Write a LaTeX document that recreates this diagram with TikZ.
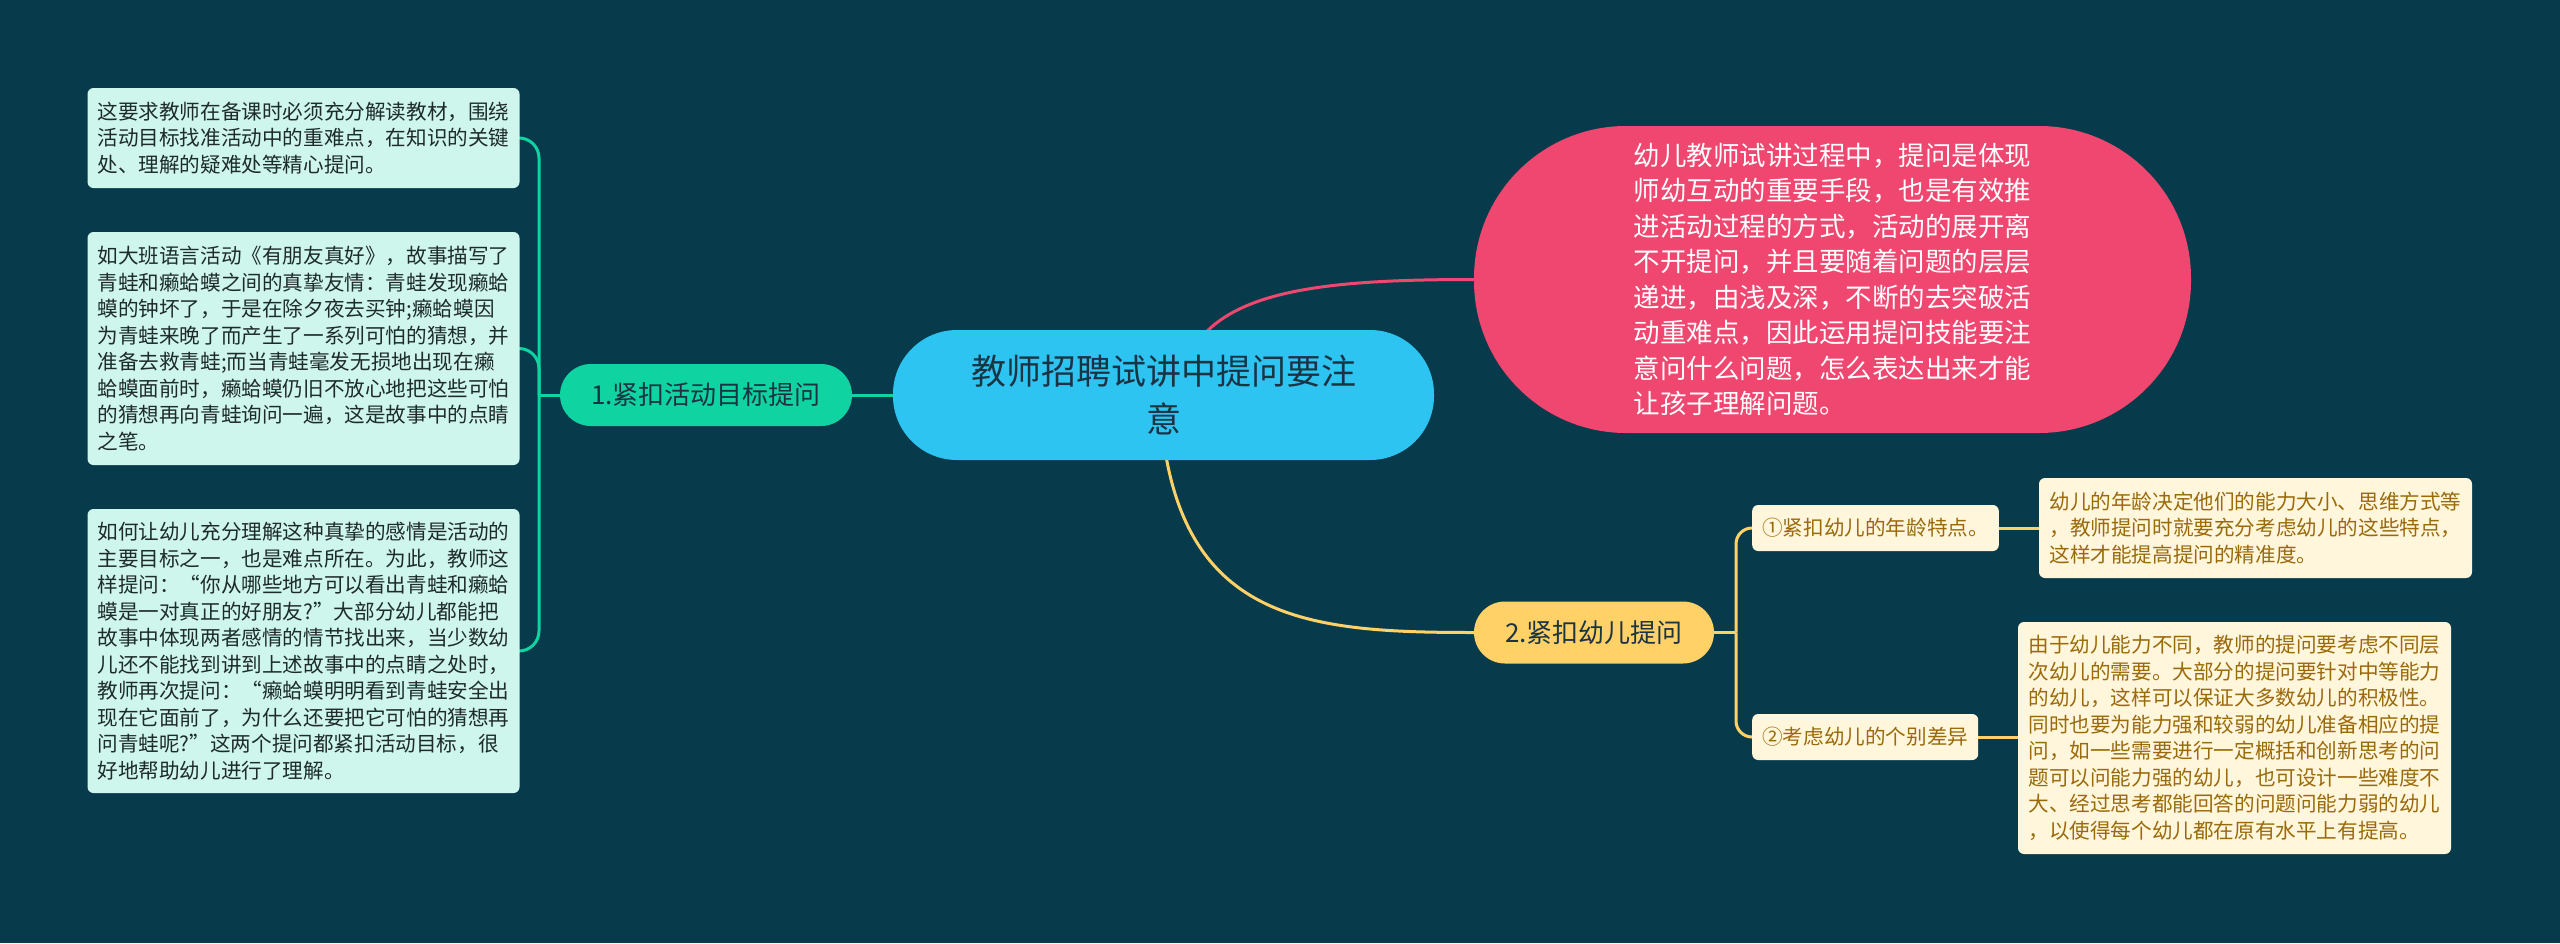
\documentclass[tikz,border=0pt]{standalone}
\usepackage{fontspec}
\newfontfamily\cjk{Noto Sans CJK SC}
\definecolor{bgc}{HTML}{073B4C}
\definecolor{tealc}{HTML}{0FD3A0}
\definecolor{pinkc}{HTML}{EF476F}
\definecolor{yelc}{HTML}{FFD166}
\definecolor{rootc}{HTML}{2EC4F2}
\definecolor{mint}{HTML}{CFF6EC}
\definecolor{minttext}{HTML}{1E2B2B}
\definecolor{cream}{HTML}{FFF6DC}
\definecolor{creamtext}{HTML}{9A6A0A}
\definecolor{darktext}{HTML}{1B3444}
\pgfdeclarelayer{back}
\pgfdeclarelayer{edges}
\pgfsetlayers{back,edges,main}
\tikzset{
  leafL/.style={fill=mint, text=minttext, rounded corners=6pt, align=left,
    font=\cjk\fontsize{20.6}{26.5}\selectfont, inner xsep=10pt, inner ysep=4pt,
    minimum width=431pt},
  leafR/.style={fill=cream, text=creamtext, rounded corners=6pt, align=left,
    font=\cjk\fontsize{20.6}{26.5}\selectfont, inner xsep=10pt, inner ysep=4pt,
    minimum width=433pt},
  subbox/.style={fill=cream, text=creamtext, rounded corners=6pt,
    font=\cjk\fontsize{20.6}{26.5}\selectfont, inner xsep=10pt, inner ysep=4pt,
    minimum height=46pt},
  rootbox/.style={fill=rootc, text=darktext, align=center, rounded corners=64pt,
    font=\cjk\fontsize{35}{48}\selectfont, minimum width=541pt, minimum height=130pt},
  pinkbox/.style={fill=pinkc, text=white, align=left, rounded corners=152pt,
    font=\cjk\fontsize{26.5}{35.5}\selectfont, minimum width=717pt, minimum height=307pt},
  branchbox/.style={text=darktext, font=\cjk\fontsize{26}{30}\selectfont,
    minimum height=62pt, rounded corners=31pt},
  tline/.style={draw=tealc, line width=3pt},
  yline/.style={draw=yelc, line width=3pt},
  pline/.style={draw=pinkc, line width=3pt},
}
\begin{document}
\begin{tikzpicture}[x=1pt,y=-1pt]
\begin{pgfonlayer}{back}
\fill[bgc] (0,0) rectangle (2560,943);
\end{pgfonlayer}
\useasboundingbox (0,0) rectangle (2560,943);

\node[rootbox] (root) at (1163.5,395) {教师招聘试讲中提问要注\\意};
\node[pinkbox] (pink) at (1832.5,279.5) {幼儿教师试讲过程中，提问是体现\\师幼互动的重要手段，也是有效推\\进活动过程的方式，活动的展开离\\不开提问，并且要随着问题的层层\\递进，由浅及深，不断的去突破活\\动重难点，因此运用提问技能要注\\意问什么问题，怎么表达出来才能\\让孩子理解问题。};
\node[branchbox, fill=tealc, minimum width=292pt] (b1) at (706,395) {1.紧扣活动目标提问};
\node[branchbox, fill=yelc, minimum width=240pt] (b2) at (1594,632.5) {2.紧扣幼儿提问};

\node[leafL, minimum height=100pt] (l1) at (303.5,138) {这要求教师在备课时必须充分解读教材，围绕\\活动目标找准活动中的重难点，在知识的关键\\处、理解的疑难处等精心提问。};
\node[leafL, minimum height=233pt] (l2) at (303.5,348.5) {如大班语言活动《有朋友真好》，故事描写了\\青蛙和癞蛤蟆之间的真挚友情：青蛙发现癞蛤\\蟆的钟坏了，于是在除夕夜去买钟;癞蛤蟆因\\为青蛙来晚了而产生了一系列可怕的猜想，并\\准备去救青蛙;而当青蛙毫发无损地出现在癞\\蛤蟆面前时，癞蛤蟆仍旧不放心地把这些可怕\\的猜想再向青蛙询问一遍，这是故事中的点睛\\之笔。};
\node[leafL, minimum height=284pt] (l3) at (303.5,651) {如何让幼儿充分理解这种真挚的感情是活动的\\主要目标之一，也是难点所在。为此，教师这\\样提问：“你从哪些地方可以看出青蛙和癞蛤\\蟆是一对真正的好朋友?”大部分幼儿都能把\\故事中体现两者感情的情节找出来，当少数幼\\儿还不能找到讲到上述故事中的点睛之处时，\\教师再次提问：“癞蛤蟆明明看到青蛙安全出\\现在它面前了，为什么还要把它可怕的猜想再\\问青蛙呢?”这两个提问都紧扣活动目标，很\\好地帮助幼儿进行了理解。};

\node[subbox, anchor=west] (c1) at (1752,528) {①紧扣幼儿的年龄特点。};
\node[subbox, anchor=west] (c2) at (1752,737) {②考虑幼儿的个别差异};
\node[leafR, minimum height=100pt] (la) at (2255.5,528) {幼儿的年龄决定他们的能力大小、思维方式等\\，教师提问时就要充分考虑幼儿的这些特点，\\这样才能提高提问的精准度。};
\node[leafR, minimum height=232pt] (lb) at (2234.5,738) {由于幼儿能力不同，教师的提问要考虑不同层\\次幼儿的需要。大部分的提问要针对中等能力\\的幼儿，这样可以保证大多数幼儿的积极性。\\同时也要为能力强和较弱的幼儿准备相应的提\\问，如一些需要进行一定概括和创新思考的问\\题可以问能力强的幼儿，也可设计一些难度不\\大、经过思考都能回答的问题问能力弱的幼儿\\，以使得每个幼儿都在原有水平上有提高。};

\coordinate (jl) at (539,395);
\coordinate (jr) at (1736,632.5);
\begin{pgfonlayer}{edges}
\draw[pline] ([xshift=14pt]root.center) .. controls +(12,-100) and +(-180,0) .. (pink.west);
\draw[yline] ([xshift=-4pt]root.center) .. controls +(10,226) and +(-173,0) .. (b2.west);
\draw[tline] (root.west) -- (b1.east);
\draw[tline] (b1.west) -- (jl);
\foreach \n in {l1,l2,l3}
  \draw[tline, rounded corners=20pt] (jl) -- (jl |- \n.east) -- (\n.east);
\draw[yline] (b2.east) -- (jr);
\foreach \n in {c1,c2}
  \draw[yline, rounded corners=16pt] (jr) -- (jr |- \n.west) -- (\n.west);
\draw[yline] (c1.east) -- (c1.east -| la.west);
\draw[yline] (c2.east) -- (c2.east -| lb.west);
\end{pgfonlayer}
\end{tikzpicture}
\end{document}
